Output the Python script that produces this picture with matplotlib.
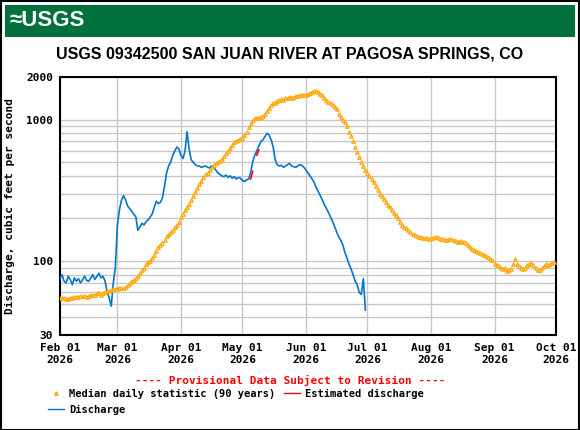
import matplotlib
matplotlib.use("Agg")
import matplotlib.pyplot as plt
import matplotlib.dates as mdates
from matplotlib.lines import Line2D
from matplotlib.patches import Rectangle
import numpy as np
import datetime as dt

# Median daily statistic, Feb 01 - Sep 30 2026 (cfs)
median_feb = [55, 55, 55, 54, 54, 55, 55, 56, 56, 56, 57, 57, 57, 56, 57, 58, 58, 58, 59, 59,
              58, 59, 60, 61, 61, 62, 63, 63]
median_mar = [63, 64, 64, 65, 66, 68, 70, 72, 74, 76, 79, 82, 86, 90, 95, 98, 100, 105, 110, 118,
              125, 130, 135, 140, 150, 155, 160, 165, 175, 180, 190]
median_apr = [205, 215, 230, 240, 255, 270, 290, 310, 330, 350, 370, 390, 410, 420, 440, 460, 480,
              490, 500, 510, 530, 550, 580, 600, 630, 660, 690, 700, 720, 730]
median_may = [740, 780, 820, 880, 940, 990, 1020, 1030, 1020, 1040, 1060, 1100, 1150, 1200, 1260,
              1300, 1320, 1350, 1380, 1400, 1380, 1410, 1420, 1440, 1430, 1450, 1460, 1470, 1480,
              1490, 1480]
median_jun = [1500, 1520, 1540, 1560, 1600, 1590, 1560, 1520, 1480, 1420, 1380, 1330, 1300, 1270,
              1220, 1180, 1100, 1050, 1000, 960, 900, 820, 760, 700, 640, 590, 540, 500, 470, 440]
median_jul = [420, 400, 380, 360, 340, 320, 300, 290, 275, 260, 250, 240, 230, 220, 210, 200, 190,
              180, 175, 170, 165, 160, 155, 152, 150, 148, 147, 146, 145, 145, 144]
median_aug = [145, 146, 148, 147, 145, 143, 142, 140, 141, 143, 142, 141, 139, 137, 138, 136, 136,
              134, 130, 126, 122, 120, 118, 116, 114, 112, 110, 108, 106, 104, 102]
median_sep = [95, 93, 92, 90, 88, 89, 85, 86, 88, 96, 104, 95, 92, 89, 88, 90, 93, 95, 97, 94,
              90, 86, 87, 90, 92, 95, 93, 96, 97, 99]

# Discharge (approx. daily), Feb 01 - Jun 30 2026 (cfs)
q_feb = [75, 80, 72, 70, 78, 74, 68, 76, 72, 75, 70, 74, 78, 73, 72, 76, 80, 74, 78, 82, 76, 78,
         72, 60, 55, 48, 70, 90]
q_mar = [180, 230, 270, 290, 270, 245, 235, 225, 215, 205, 165, 175, 185, 180, 190, 195, 205, 215,
         240, 265, 255, 260, 280, 340, 420, 470, 500, 560, 600, 640, 620]
q_apr = [560, 530, 600, 820, 620, 520, 500, 480, 470, 470, 460, 465, 470, 460, 455, 470, 460, 440,
         420, 410, 400, 395, 405, 390, 400, 385, 395, 380, 390, 385]
q_may = [370, 365, 375, 380, 420, 500, 560, 600, 650, 700, 720, 760, 800, 780, 720, 640, 520, 480,
         470, 475, 460, 470, 480, 490, 470, 465, 460, 470, 480, 475, 460]
q_jun = [440, 420, 400, 380, 360, 330, 310, 290, 270, 250, 235, 220, 205, 190, 175, 160, 148, 140,
         130, 115, 105, 95, 88, 80, 72, 68, 60, 58, 75, 45]

# Estimated discharge bits (day of May, cfs)
est_days = [5, 6, 8, 9]
est_vals = [380, 430, 560, 610]

start = dt.date(2026, 2, 1)
median = median_feb + median_mar + median_apr + median_may + median_jun + median_jul + median_aug + median_sep
q = q_feb + q_mar + q_apr + q_may + q_jun
median_dates = [start + dt.timedelta(days=i) for i in range(len(median))]
q_dates = [start + dt.timedelta(days=i) for i in range(len(q))]

MONO = ["DejaVu Sans Mono"]
TITLE = ["Liberation Sans", "DejaVu Sans"]
FS = 7.5

fig = plt.figure(figsize=(5.8, 4.3), dpi=100)
fig.patch.set_facecolor("white")
fig.add_artist(Rectangle((0.001, 0.001), 0.997, 0.997, transform=fig.transFigure,
                         fill=False, edgecolor="black", lw=1.5))
fig.add_artist(Rectangle((5 / 580, 1 - 37 / 430), 570 / 580, 32 / 430, transform=fig.transFigure,
                         facecolor="#00703c", edgecolor="none"))
fig.text(10 / 580, 1 - 21 / 430, "≈USGS", color="white", fontsize=16, fontweight="bold",
         family=TITLE, va="center", ha="left")
fig.text(0.5, 1 - 54 / 430, "USGS 09342500 SAN JUAN RIVER AT PAGOSA SPRINGS, CO", fontsize=11.5,
         fontweight="bold", family=TITLE, ha="center", va="center")

ax = fig.add_axes([60 / 580, 95 / 430, 496 / 580, 258 / 430])
ax.set_yscale("log")
ax.set_ylim(30, 2000)
ax.set_xlim(dt.date(2026, 2, 1), dt.date(2026, 10, 1))

ax.yaxis.set_major_locator(matplotlib.ticker.FixedLocator([30, 100, 1000, 2000]))
ax.yaxis.set_major_formatter(matplotlib.ticker.FixedFormatter(["30", "100", "1000", "2000"]))
ax.yaxis.set_minor_locator(matplotlib.ticker.LogLocator(base=10, subs=np.arange(1, 10)))
ax.yaxis.set_minor_formatter(matplotlib.ticker.NullFormatter())
ax.xaxis.set_major_locator(mdates.MonthLocator())
ax.xaxis.set_major_formatter(mdates.DateFormatter("%b %d\n%Y"))
ax.grid(True, which="both", color="#c8c8c8", lw=1)
ax.set_axisbelow(True)
ax.tick_params(axis="x", which="both", length=0, pad=6)
ax.tick_params(axis="y", which="both", length=0, pad=5)
for lab in ax.get_xticklabels() + ax.get_yticklabels():
    lab.set_family(MONO)
    lab.set_fontweight("bold")
    lab.set_fontsize(8)
for s in ax.spines.values():
    s.set_linewidth(1.5)
ax.set_ylabel("Discharge, cubic feet per second", family=MONO, fontweight="bold", fontsize=8,
              labelpad=8)

ax.plot(q_dates, q, color="#0077cc", lw=1.2, zorder=3)
est_dates = [dt.date(2026, 5, d) for d in est_days]
ax.plot(est_dates[:2], est_vals[:2], color="red", lw=1.2, zorder=4)
ax.plot(est_dates[2:], est_vals[2:], color="red", lw=1.2, zorder=4)
ax.plot(median_dates, median, ls="none", marker="^", ms=2.5, mfc="white", mec="#ffa500",
        mew=0.9, zorder=5)

fig.text(0.5, 1 - 380 / 430, "---- Provisional Data Subject to Revision ----", color="red",
         family=MONO, fontweight="bold", fontsize=8, ha="center", va="center")
fig.add_artist(Line2D([56 / 580], [1 - 393 / 430], marker="^", ms=2.5, mfc="white", mec="#ffa500",
                      transform=fig.transFigure))
fig.text(69 / 580, 1 - 394 / 430, "Median daily statistic (90 years)", family=MONO,
         fontweight="bold", fontsize=FS, va="center")
fig.add_artist(Line2D([284 / 580, 300 / 580], [1 - 393 / 430] * 2, color="red", lw=1,
                      transform=fig.transFigure))
fig.text(305 / 580, 1 - 394 / 430, "Estimated discharge", family=MONO, fontweight="bold",
         fontsize=FS, va="center")
fig.add_artist(Line2D([48 / 580, 64 / 580], [1 - 409 / 430] * 2, color="#0077cc", lw=1,
                      transform=fig.transFigure))
fig.text(69 / 580, 1 - 410 / 430, "Discharge", family=MONO, fontweight="bold", fontsize=FS,
         va="center")

fig.savefig("out.png", dpi=100)
